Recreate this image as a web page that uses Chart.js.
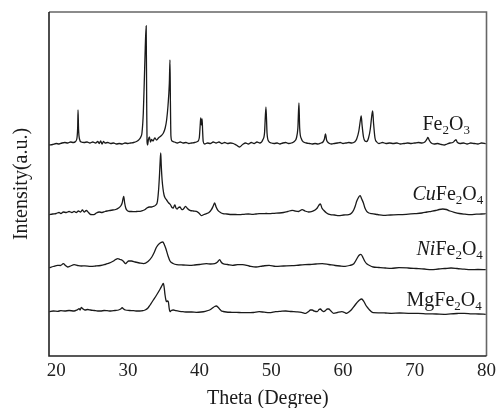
<!DOCTYPE html>
<html>
<head>
<meta charset="utf-8">
<script src="https://cdn.jsdelivr.net/npm/chart.js@4/dist/chart.umd.min.js"></script>
<style>
  html, body { margin: 0; padding: 0; background: #fff; }
  #wrap { width: 500px; height: 408px; position: relative; }
</style>
</head>
<body>
<div id="wrap"><canvas id="c"></canvas></div>
<script>
// ---- Data (theta in degrees, intensity in a.u. relative to each pattern's baseline) ----
const xTicks = [20, 30, 40, 50, 60, 70, 80];

const fe2o3 = [[19.05,-2],[19.5,-1.5],[20.0,-0.5],[20.4,-1],[20.8,0],[21.2,0.5],[21.6,0],[22.0,1],[22.4,0.5],[22.7,1.5],[22.9,5],[23.0,16],[23.05,33],[23.12,14],[23.25,4],[23.5,1],[23.9,0.5],[24.3,1],[24.7,0],[25.1,1],[25.5,0],[25.8,1.5],[26.0,-0.5],[26.2,2],[26.4,-1],[26.6,1.5],[26.8,0],[27.2,0.5],[27.6,-0.5],[28.0,0],[28.4,-1],[28.8,-0.5],[29.2,-1],[29.6,0],[30.0,-0.5],[30.4,0],[30.8,0.5],[31.2,1.5],[31.5,3],[31.8,6],[31.96,10],[32.15,30],[32.28,60],[32.42,95],[32.55,117],[32.62,40],[32.67,1.5],[32.75,-2],[32.85,3],[33.0,6],[33.15,1],[33.3,3.5],[33.5,2],[33.75,5],[34.0,3],[34.26,5],[34.6,7],[34.95,10],[35.2,15],[35.4,23],[35.6,38],[35.78,60],[35.87,83],[35.93,40],[36.0,7],[36.15,2],[36.5,1],[36.9,0],[37.3,1],[37.7,0],[38.1,0.5],[38.5,-0.5],[38.9,0],[39.3,0.5],[39.7,1.5],[39.95,5],[40.1,20],[40.16,25],[40.25,18],[40.35,24],[40.42,12],[40.5,1.5],[40.7,-1],[41.1,0],[41.5,-0.5],[41.9,1],[42.3,0],[42.7,1],[43.1,-0.5],[43.5,0.5],[43.9,-0.5],[44.3,0],[44.7,-0.5],[45.1,-2],[45.55,-4],[46.0,-1.5],[46.4,0],[46.8,-1],[47.2,0.5],[47.6,-0.5],[48.0,1],[48.4,0],[48.8,3],[49.05,10],[49.25,36],[49.4,10],[49.6,2],[50.0,0],[50.4,-0.5],[50.8,0],[51.2,-1],[51.6,0],[52.0,0.5],[52.4,-0.5],[52.8,0],[53.2,1.5],[53.5,5],[53.7,15],[53.85,40],[53.95,15],[54.2,4],[54.5,1],[54.9,0],[55.3,-0.5],[55.7,-1],[56.1,-0.5],[56.5,-1],[56.9,0],[57.2,1],[57.4,4],[57.55,9],[57.7,3],[58.0,0],[58.4,-1],[58.8,-0.5],[59.2,0],[59.6,0.5],[60.0,-0.5],[60.4,0],[60.8,0.5],[61.2,0],[61.6,1],[61.9,4],[62.2,12],[62.4,22],[62.53,27],[62.65,18],[62.85,6],[63.05,2],[63.3,1.5],[63.55,5],[63.8,14],[64.0,27],[64.13,32],[64.25,20],[64.45,5],[64.7,1],[65.0,-0.5],[65.5,0.5],[66.0,-0.5],[66.5,0],[67.0,-0.5],[67.5,0],[68.0,-1],[68.5,-0.5],[69.0,0],[69.5,-0.5],[70.0,0],[70.5,0.5],[71.0,0],[71.4,1],[71.7,4],[71.83,5.7],[72.0,3],[72.3,0],[72.7,-1],[73.2,-0.5],[73.7,-1.5],[74.1,-2],[74.5,-1],[74.9,0],[75.3,0.5],[75.6,2.5],[75.75,3.3],[75.9,1],[76.3,-0.5],[76.8,0],[77.3,-1],[77.8,0],[78.3,-0.5],[78.8,-1],[79.3,0],[79.9,-0.7]];

const cuFe2o4 = [[19.05,-1.7],[19.5,-1],[20.0,-0.5],[20.4,0.5],[20.66,-0.5],[21.0,1],[21.4,0.5],[21.8,1.5],[22.2,0.5],[22.5,1.7],[22.8,0.5],[23.1,2],[23.4,1],[23.66,3],[23.9,1],[24.2,2.5],[24.5,0.5],[24.8,-1.5],[25.27,-1.7],[25.6,0],[26.0,1],[26.4,0.5],[26.8,1.5],[27.1,2],[27.5,2.5],[27.9,3],[28.3,3.5],[28.7,5],[29.0,7],[29.2,10],[29.42,16.7],[29.55,10],[29.7,5],[29.8,3.3],[30.1,1.7],[30.5,1.5],[31.0,1.3],[31.4,1.7],[31.7,1.7],[32.1,2.5],[32.4,3.5],[32.65,5],[33.0,6],[33.3,6],[33.56,6.7],[33.9,8],[34.12,11.7],[34.3,25],[34.42,40],[34.5,52],[34.58,60],[34.65,48],[34.77,33],[34.9,24],[35.04,18],[35.2,15],[35.4,13],[35.7,10],[35.96,8],[36.15,5.5],[36.33,5],[36.45,7],[36.56,8],[36.7,5],[36.88,4],[37.05,5.5],[37.25,6],[37.45,4],[37.63,3.3],[37.85,5],[38.04,6.7],[38.3,4.5],[38.64,2.7],[39.1,2],[39.56,1.7],[39.9,0],[40.26,-2.7],[40.6,-1.5],[40.95,-0.7],[41.3,0.5],[41.64,3.3],[41.9,7],[42.1,10],[42.3,6],[42.55,2.7],[42.9,0.5],[43.25,-0.7],[43.8,-1],[44.4,-1.5],[45.0,-1.5],[45.55,-1.7],[46.2,-1.3],[46.8,-1],[47.3,-1.3],[47.86,-1],[48.3,-0.7],[48.8,-0.7],[49.3,-0.5],[49.7,-0.7],[50.4,-0.3],[51.1,0],[51.7,0.5],[52.3,1.5],[52.9,2.7],[53.3,2],[53.8,1.5],[54.3,3.3],[54.7,2],[55.2,1],[55.7,1.7],[56.1,3],[56.4,5],[56.65,8],[56.85,9],[57.05,5],[57.3,2.7],[57.7,0],[58.24,-1.7],[58.8,-2],[59.4,-2.7],[60.1,-2],[60.8,-1.7],[61.2,0],[61.5,3.3],[61.7,7],[61.9,11.7],[62.15,15.5],[62.38,17.3],[62.6,14],[62.84,10],[63.05,5],[63.3,1.7],[63.6,0],[64.0,-0.7],[64.8,-1.5],[65.6,-2.3],[66.6,-2],[67.7,-1.7],[68.8,-1.3],[70.0,-0.7],[71.0,0],[71.7,1],[72.3,1.7],[72.9,2.5],[73.4,3.5],[73.9,4],[74.4,3.5],[74.9,2],[75.5,0.7],[76.2,-0.5],[77.0,-1.2],[77.8,-1.7],[78.6,-1.2],[79.3,-1],[79.9,-0.7]];

const niFe2o4 = [[19.05,-0.7],[19.6,0.5],[20.2,1.7],[20.6,1.5],[21.0,3.3],[21.3,1.5],[21.6,0],[22.0,1],[22.5,2.3],[23.0,1.5],[23.5,1],[24.0,1.2],[24.8,0.7],[25.5,1],[26.2,1.5],[26.7,2.3],[27.1,3.3],[27.6,4.5],[28.0,6],[28.3,7.5],[28.6,8.3],[28.9,7.5],[29.2,6.7],[29.45,5],[29.65,3.3],[29.85,4.5],[30.1,6],[30.5,6],[31.0,5],[31.6,4],[32.2,3.3],[32.8,5.5],[33.34,10],[33.7,15],[34.0,20],[34.4,23.5],[34.86,25],[35.1,22],[35.3,18.3],[35.6,11],[35.87,6],[36.3,3.5],[36.8,2.3],[37.7,2],[38.64,1.7],[39.3,2],[40.0,2.5],[40.95,3.3],[41.5,3],[42.1,3.3],[42.5,5],[42.8,7.3],[43.0,5],[43.25,3.3],[43.9,2.5],[44.6,1.7],[45.3,2.3],[46.0,2.3],[46.9,1],[47.86,0],[48.8,1],[49.7,1.7],[50.6,0.7],[51.7,1],[52.9,1.3],[54.0,2],[55.2,2.5],[56.2,3],[57.1,3.3],[58.0,2.5],[58.9,1.5],[59.6,1],[60.3,0.7],[60.9,1.5],[61.5,3.3],[61.9,8],[62.2,11.5],[62.5,12.7],[62.8,9],[63.05,5.5],[63.3,3.3],[63.7,1.5],[64.2,0],[65.0,-0.5],[65.9,-1],[66.75,-1.3],[67.8,-0.7],[69.06,-1],[70.2,-1.5],[71.3,-2],[72.3,-2.7],[73.3,-2],[74.2,-1.5],[75.06,-1],[75.9,-1.5],[76.9,-2.2],[77.8,-2.7],[78.8,-2.5],[79.9,-2.7]];

const mgFe2o4 = [[19.05,-0.7],[19.6,0],[20.2,-0.3],[20.66,0.3],[21.2,0],[21.8,0.5],[22.5,0],[22.9,1],[23.2,2.3],[23.35,1],[23.5,3.7],[23.66,2.5],[24.0,1],[24.4,1.5],[24.8,1],[25.3,0.5],[25.8,0],[26.2,0],[26.7,0.5],[27.1,0.3],[27.6,0],[28.2,0.5],[28.7,1],[29.0,2],[29.2,3.3],[29.4,2],[29.65,1],[30.2,0.5],[30.8,0.3],[31.27,0],[31.9,0.2],[32.4,1],[32.8,3],[33.1,6],[33.5,10.5],[34.0,16],[34.5,22],[34.8,26],[34.95,27.7],[35.05,24],[35.18,16],[35.3,11],[35.4,9.3],[35.5,10],[35.64,9.3],[35.75,3],[35.87,-0.7],[36.05,0.5],[36.33,1],[36.7,0.3],[37.2,-0.3],[37.7,-0.7],[38.3,-1],[38.9,-1],[39.56,-1.3],[40.2,-1],[40.8,-0.3],[41.4,1],[41.8,3],[42.1,4.5],[42.33,5],[42.6,3.5],[42.85,1.5],[43.0,0.3],[43.3,-0.5],[43.7,-1],[44.5,-1.3],[45.5,-1.5],[46.5,-1.7],[47.5,-1.5],[48.3,-0.7],[49.0,-1.2],[49.7,-1.7],[50.6,-0.7],[51.3,-0.3],[52.0,0],[52.8,-0.5],[53.5,-0.8],[54.2,-1.3],[54.8,-2.3],[55.2,-0.5],[55.45,1],[55.7,1],[56.0,-0.2],[56.4,-0.7],[56.65,1.5],[56.85,2],[57.05,0.5],[57.3,-0.7],[57.6,0.8],[57.8,2],[58.0,2],[58.3,0],[58.7,-2.3],[59.2,-1.5],[59.85,-0.7],[60.2,-1.5],[60.5,-2.3],[60.9,-0.5],[61.2,1.5],[61.5,4.3],[61.9,8],[62.3,11],[62.6,12],[62.9,9.5],[63.2,5.5],[63.5,2.7],[63.85,0],[64.2,-1.7],[65.0,-1.8],[65.9,-2],[66.75,-2.3],[67.9,-2],[69.1,-2.3],[70.45,-2.3],[71.7,-2.8],[73.0,-3],[74.1,-3.3],[75.0,-2.8],[75.9,-2.5],[76.9,-2.3],[77.9,-2.8],[78.9,-3],[79.9,-3.3]];

// vertical offsets of the stacked patterns (a.u.)
const offsets = [213, 143, 89, 45];
const patterns = [fe2o3, cuFe2o4, niFe2o4, mgFe2o4];

// label text segments: [text, style] ; style: 'n' normal, 'i' italic, 's' subscript
const seriesLabels = [
  [['Fe','n'],['2','s'],['O','n'],['3','s']],
  [['Cu','i'],['Fe','n'],['2','s'],['O','n'],['4','s']],
  [['Ni','i'],['Fe','n'],['2','s'],['O','n'],['4','s']],
  [['Mg','n'],['Fe','n'],['2','s'],['O','n'],['4','s']]
];
</script>
<script>
const SERIF = '"Liberation Serif", "Times New Roman", serif';

// label placement (layout only): left edge measured from plot right edge, baseline above pattern baseline
const labelLayout = [
  {fromRight: 64, rise: 13},
  {fromRight: 74, rise: 13},
  {fromRight: 70, rise: 12},
  {fromRight: 80, rise: 5}
];

const datasets = patterns.map((p, i) => ({
  label: seriesLabels[i].map(s => s[0]).join(''),
  data: p.map(([x, y]) => ({x: x, y: y + offsets[i]})),
  borderColor: '#1a1a1a',
  borderWidth: 1.3,
  pointRadius: 0,
  fill: false,
  cubicInterpolationMode: 'monotone',
  tension: 0.3
}));

const boxPlugin = {
  id: 'box',
  afterDatasetsDraw(chart) {
    const {ctx, chartArea: a} = chart;
    ctx.save();
    ctx.lineWidth = 1.6;
    ctx.strokeStyle = '#666';
    ctx.beginPath();
    ctx.moveTo(a.left, a.top); ctx.lineTo(a.right, a.top); ctx.lineTo(a.right, a.bottom);
    ctx.stroke();
    ctx.strokeStyle = '#222';
    ctx.beginPath();
    ctx.moveTo(a.left, a.top); ctx.lineTo(a.left, a.bottom); ctx.lineTo(a.right, a.bottom);
    ctx.stroke();
    ctx.restore();
  }
};

const labelPlugin = {
  id: 'seriesLabels',
  afterDraw(chart) {
    const {ctx, chartArea: a} = chart;
    const yScale = chart.scales.y;
    ctx.save();
    ctx.fillStyle = '#1a1a1a';
    ctx.textBaseline = 'alphabetic';
    ctx.textAlign = 'left';
    seriesLabels.forEach((segs, i) => {
      let x = a.right - labelLayout[i].fromRight;
      const yb = yScale.getPixelForValue(offsets[i] + labelLayout[i].rise);
      segs.forEach(([t, st]) => {
        let dy = 0;
        if (st === 's') { ctx.font = '13px ' + SERIF; dy = 4; }
        else if (st === 'i') { ctx.font = 'italic 20px ' + SERIF; }
        else { ctx.font = '20px ' + SERIF; }
        ctx.fillText(t, x, yb + dy);
        x += ctx.measureText(t).width;
      });
    });
    ctx.restore();
  }
};

new Chart(document.getElementById('c'), {
  type: 'line',
  data: { datasets },
  options: {
    responsive: true,
    maintainAspectRatio: false,
    animation: false,
    layout: { padding: { top: 12, right: 11, left: 0, bottom: 0 } },
    plugins: { legend: { display: false }, tooltip: { enabled: false } },
    scales: {
      x: {
        type: 'linear',
        min: 19,
        max: 80,
        afterBuildTicks: s => { s.ticks = xTicks.map(v => ({value: v})); },
        afterFit: s => { s.height = 52; },
        grid: { display: false, drawTicks: false },
        border: { display: false },
        ticks: { font: { family: SERIF, size: 19 }, color: '#222', padding: 4, maxRotation: 0 },
        title: { display: true, text: 'Theta (Degree)', font: { family: SERIF, size: 20 }, color: '#1a1a1a', padding: { top: 0, bottom: -3 } }
      },
      y: {
        min: 0,
        max: 344,
        afterFit: s => { s.width = 49; },
        grid: { display: false, drawTicks: false },
        border: { display: false },
        ticks: { display: false },
        title: { display: true, text: 'Intensity(a.u.)', font: { family: SERIF, size: 20 }, color: '#1a1a1a', padding: { top: 10, bottom: 0 } }
      }
    }
  },
  plugins: [boxPlugin, labelPlugin]
});
</script>
</body>
</html>
